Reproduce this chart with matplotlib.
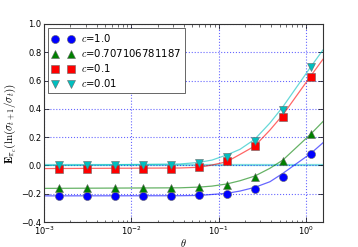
import matplotlib
matplotlib.use("Agg")
import matplotlib.pyplot as plt

plt.rcParams['mathtext.fontset'] = 'cm'
plt.rcParams['font.family'] = ['DejaVu Sans']

# marker data
theta = [0.0015, 0.0031, 0.0065, 0.0136, 0.0284, 0.0594, 0.124, 0.26, 0.545, 1.14]
labels = [r'$c$=1.0', r'$c$=0.707106781187', r'$c$=0.1', r'$c$=0.01']
y_c1 = [-0.215, -0.215, -0.215, -0.215, -0.215, -0.212, -0.200, -0.167, -0.080, 0.083]
y_c07 = [-0.160, -0.160, -0.160, -0.160, -0.160, -0.155, -0.136, -0.084, 0.031, 0.222]
y_c01 = [-0.025, -0.025, -0.025, -0.025, -0.022, -0.011, 0.031, 0.137, 0.342, 0.627]
y_c001 = [0.003, 0.003, 0.003, 0.003, 0.005, 0.015, 0.062, 0.173, 0.392, 0.698]

# fitted curve data
theta_line = [0.001, 0.036, 0.06, 0.084, 0.124, 0.176, 0.26, 0.388, 0.545, 1.14, 1.57]
l_c1 = [-0.215, -0.214, -0.212, -0.205, -0.197, -0.181, -0.155, -0.115, -0.056, 0.085, 0.16]
l_c07 = [-0.162, -0.158, -0.153, -0.146, -0.131, -0.108, -0.075, -0.02, 0.038, 0.222, 0.31]
l_c01 = [-0.022, -0.018, -0.013, 0.003, 0.026, 0.078, 0.137, 0.25, 0.357, 0.633, 0.75]
l_c001 = [0.0, 0.01, 0.022, 0.038, 0.074, 0.114, 0.185, 0.30, 0.414, 0.697, 0.816]

colors = ['b', 'g', 'r', 'c']
markers = ['o', '^', 's', 'v']

fig = plt.figure(figsize=(3.58, 2.47), dpi=100)
ax = fig.add_axes([0.123, 0.101, 0.779, 0.802])

ax.axhline(0.0, color='c', lw=1.6, alpha=0.5, zorder=1)

for yl, col in zip([l_c1, l_c07, l_c01, l_c001], colors):
    ax.plot(theta_line, yl, '-', color=col, lw=0.9, alpha=0.6, zorder=2)

for ym, col, mk, lab in zip([y_c1, y_c07, y_c01, y_c001], colors, markers, labels):
    ax.plot(theta, ym, linestyle='none', marker=mk, color=col, markersize=5.8,
            markeredgecolor='0.4', markeredgewidth=0.4, label=lab, zorder=3)

ax.set_xscale('log')
ax.set_xlim(1e-3, 1.57)
ax.set_ylim(-0.4, 1.0)
ax.set_yticks([-0.4, -0.2, 0.0, 0.2, 0.4, 0.6, 0.8, 1.0])
ax.grid(True, which='major', color='b', linestyle=':', linewidth=0.8, alpha=0.6)
ax.tick_params(which='both', direction='in', top=True, right=True, labelsize=6, pad=2)
ax.tick_params(which='major', length=3.5, width=0.5)
ax.tick_params(which='minor', length=1.8, width=0.4)
for sp in ax.spines.values():
    sp.set_linewidth(0.8)
    sp.set_color('0.2')

ax.set_xlabel(r'$\theta$', fontsize=7.5, labelpad=-0.5)
ax.set_ylabel(r'$\mathbf{E}_{\pi_c}(\ln(\sigma_{t+1}/\sigma_t))$', fontsize=8, labelpad=2)

leg = ax.legend(loc='upper left', numpoints=2, fontsize=7.3, fancybox=False,
                framealpha=1, edgecolor='0.3', borderpad=0.4, labelspacing=0.3,
                handlelength=2.2, handletextpad=0.6, borderaxespad=0.4)
leg.get_frame().set_linewidth(0.6)

fig.savefig('out.png', dpi=100)
